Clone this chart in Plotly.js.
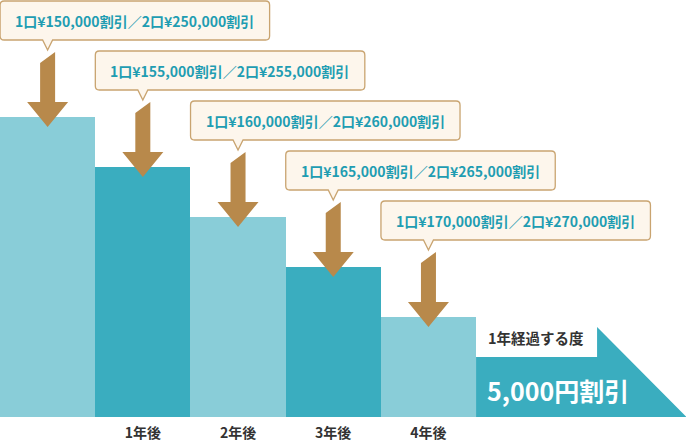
<!DOCTYPE html>
<html>
<head>
<meta charset="utf-8">
<script src="https://cdn.plot.ly/plotly-3.0.1.min.js"></script>
<style>html,body{margin:0;padding:0;background:#fff;}#chart{width:686px;height:446px;}</style>
</head>
<body>
<div id="chart"></div>
<script>
// ---- data ----
const positions = [0, 1, 2, 3, 4];
const tickLabels = ["", "1年後", "2年後", "3年後", "4年後"];
const barHeights = [6, 5, 4, 3, 2];            // relative remaining price (visual steps)
const discountOne = [150000, 155000, 160000, 165000, 170000];
const discountTwo = [250000, 255000, 260000, 265000, 270000];
const yearlyText = "1年経過する度";
const yearlyDiscount = "5,000円割引";

// ---- styles ----
const LIGHT = "#89cdd8", DARK = "#3aadbf", BROWN = "#b8894b";
const BOX_FILL = "#fdf6ec", BOX_LINE = "#c9a470", TEXT_TEAL = "#1f9db2";
const FONT = "'Noto Sans CJK JP', 'Noto Sans', sans-serif";

const fmt = n => n.toLocaleString("en-US");

const barTrace = {
  type: "bar",
  x: positions,
  y: barHeights,
  width: 1,
  marker: { color: positions.map(i => i % 2 === 0 ? LIGHT : DARK), line: { width: 0 } },
  hoverinfo: "skip"
};

const shapes = [];
const annotations = [];

positions.forEach((p, i) => {
  // down arrow
  shapes.push({
    type: "path", xref: "x", yref: "y", xsizemode: "pixel", ysizemode: "pixel",
    xanchor: p, yanchor: barHeights[i],
    path: "M -7.5,54 L 7.5,65 L 7.5,15 L 20.5,15 L 0,-10 L -20.5,15 L -7.5,15 Z",
    fillcolor: BROWN, line: { width: 0 }
  });
  // callout box
  shapes.push({
    type: "path", xref: "x", yref: "y", xsizemode: "pixel", ysizemode: "pixel",
    xanchor: p, yanchor: barHeights[i],
    path: "M -43.5,116 L 218,116 Q 222,116 222,112 L 222,81 Q 222,77 218,77 L 5,77 L 0,67 L -5,77 L -43.5,77 Q -47.5,77 -47.5,81 L -47.5,112 Q -47.5,116 -43.5,116 Z",
    fillcolor: BOX_FILL, line: { color: BOX_LINE, width: 1.3 }
  });
  annotations.push({
    x: p, y: barHeights[i], xref: "x", yref: "y", showarrow: false,
    xanchor: "center", yanchor: "middle", xshift: 87, yshift: 96.5,
    text: "1口¥" + fmt(discountOne[i]) + "割引／2口¥" + fmt(discountTwo[i]) + "割引",
    font: { family: FONT, size: 14, color: TEXT_TEAL, weight: "bold" }
  });
});

// yearly discount banner
const last = positions[positions.length - 1];
shapes.push({
  type: "path", xref: "x", yref: "y",
  path: `M ${last + 0.5},0 L ${last + 0.5},1.2 L ${last + 1.771},1.2 L ${last + 1.771},1.8 L ${last + 2.71},0 Z`,
  fillcolor: DARK, line: { width: 0 }
});
annotations.push({
  x: last + 0.5, y: 1.6, xref: "x", yref: "y", showarrow: false,
  xanchor: "left", yanchor: "middle", xshift: 10,
  text: yearlyText, font: { family: FONT, size: 14.5, color: "#333", weight: "bold" }
});
annotations.push({
  x: last + 0.5, y: 0.54, xref: "x", yref: "y", showarrow: false,
  xanchor: "left", yanchor: "middle", xshift: 9,
  text: yearlyDiscount, font: { family: FONT, size: 25, color: "#fff", weight: "bold" }
});

const layout = {
  width: 686, height: 446,
  margin: { l: 0, r: 0, t: 0, b: 29, pad: 0 },
  paper_bgcolor: "#fff", plot_bgcolor: "#fff",
  showlegend: false,
  bargap: 0,
  xaxis: {
    range: [-0.5, 6.705], tickvals: positions, ticktext: tickLabels,
    showgrid: false, zeroline: false, showline: false, ticks: "",
    tickfont: { family: FONT, size: 14, color: "#333", weight: "bold" },
    ticklabelstandoff: 6, fixedrange: true
  },
  yaxis: { range: [0, 8.34], visible: false, fixedrange: true },
  shapes: shapes,
  annotations: annotations
};

Plotly.newPlot("chart", [barTrace], layout, { displayModeBar: false, staticPlot: true });
</script>
</body>
</html>
